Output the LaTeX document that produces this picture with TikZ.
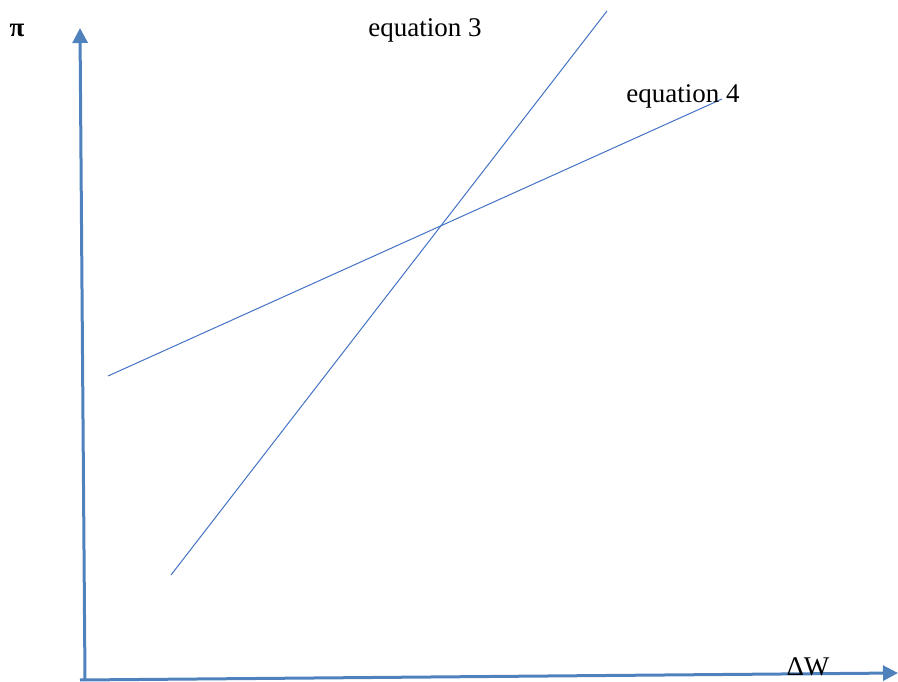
\documentclass[tikz,border=0pt]{standalone}
\usepackage{fontspec}
\setmainfont{Liberation Serif}
\usetikzlibrary{arrows.meta}
\definecolor{axisblue}{HTML}{4F81BD}
\definecolor{lineblue}{HTML}{4472C4}
\begin{document}
\begin{tikzpicture}[x=1pt,y=-1pt,
  axis/.style={draw=axisblue,line width=3pt,-{Triangle[width=15pt,length=15pt]}},
  curve/.style={draw=lineblue,line width=1pt},
  lbl/.style={font=\fontsize{27}{31}\selectfont,inner sep=0pt}]
\useasboundingbox (0,0) rectangle (898,682);
\coordinate (o) at (85,680);
\coordinate (ytop) at (80,28);
\coordinate (xend) at (898,673);
\draw[axis] (o) -- (ytop);
\draw[axis] (80,680) -- (xend);
\coordinate (a1) at (171,575);
\coordinate (a2) at (607,11);
\coordinate (b1) at (108,376);
\coordinate (b2) at (722,99);
\draw[curve] (a1) -- (a2);
\draw[curve] (b1) -- (b2);
\node[lbl] (pi) at (17,30) {\textbf{π}};
\node[lbl] (eq3) at (425,30) {equation 3};
\node[lbl] (eq4) at (683,96) {equation 4};
\node[lbl] (dw) at (808,667) {ΔW};
\end{tikzpicture}
\end{document}
